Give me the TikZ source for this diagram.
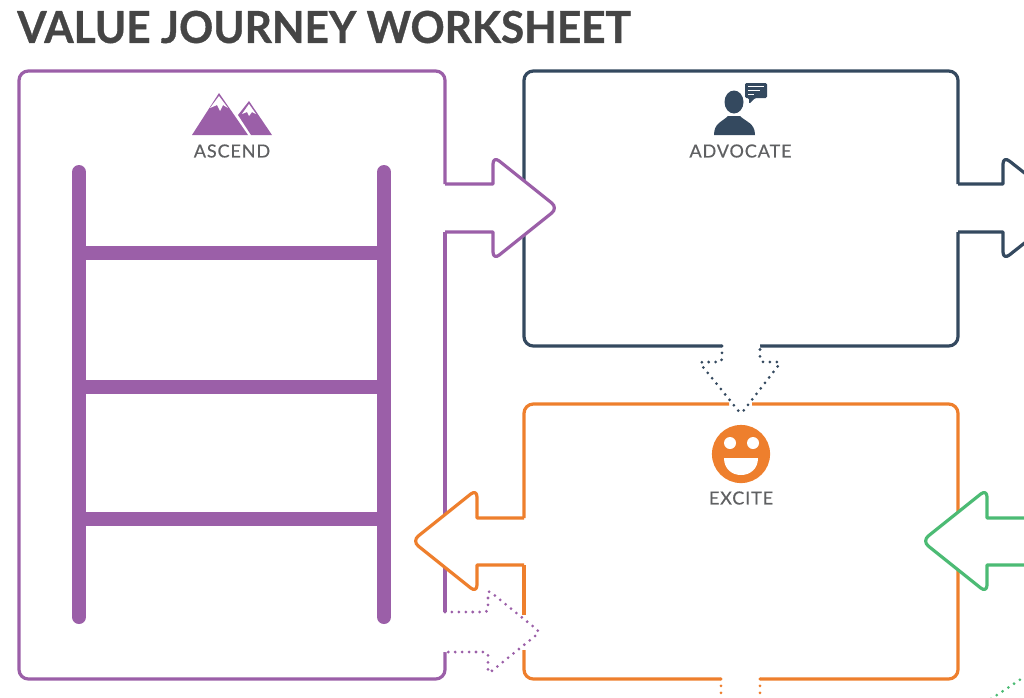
\documentclass[tikz,border=0pt]{standalone}
\usepackage{fontspec}
\setmainfont{Lato}
\definecolor{ascendcol}{HTML}{9B5FA8}
\definecolor{advocatecol}{HTML}{34495F}
\definecolor{excitecol}{HTML}{EE7F2D}
\definecolor{greencol}{HTML}{4CBB74}
\definecolor{titlecol}{HTML}{454545}
\definecolor{labelcol}{HTML}{5F6062}
\begin{document}
\begin{tikzpicture}[x=0.75pt,y=-0.75pt]
        \tikzset{stage/.style = {line width=2.4pt,rounded corners=7pt}};
        \tikzset{solidarrow/.style = {line width=2.4pt,fill=white,line join=round}};
        \tikzset{dotarrow/.style = {line width=2.3pt,fill=white,line cap=round,rounded corners=2.5pt,dash pattern=on 0pt off 5.2pt}};
        \tikzset{rail/.style = {ascendcol,line width=10.5pt,line cap=round}};
        \tikzset{rung/.style = {ascendcol,line width=10.5pt}};
        \tikzset{stagelabel/.style = {text=labelcol,font=\fontsize{13.5}{13.5}\selectfont\addfontfeature{LetterSpace=5,FakeBold=0.5}}};
        \clip (0,0) rectangle (1024,697);
        \node[anchor=west,inner sep=0pt,text=titlecol,font=\fontsize{33}{33}\selectfont\bfseries\addfontfeature{FakeStretch=0.962,FakeBold=0.8}] (title) at (17,27) {VALUE JOURNEY WORKSHEET};
        % ascend
        \draw[stage,draw=ascendcol] (445,184) -- (445,71) -- (19,71) -- (19,679) -- (445,679) -- (445,652);
        \draw[draw=ascendcol,line width=2.4pt] (445,232) -- (445,612);
        \draw[rail] (79,172) -- (79,617);
        \draw[rail] (384,172) -- (384,617);
        \draw[rung] (79,253) -- (384,253);
        \draw[rung] (79,387) -- (384,387);
        \draw[rung] (79,519) -- (384,519);
        \fill[ascendcol] (219,93) -- (248,135) -- (192,135) -- cycle;
        \fill[ascendcol] (249,101) -- (272,135) -- (251,135) -- (238,115) -- cycle;
        \fill[white] (219,96) -- (228,108) -- (223,105) -- (220,111) -- (217,105) -- (210,108) -- cycle;
        \fill[white] (249,104) -- (256,114) -- (252,112) -- (249,116) -- (247,112) -- (242,114) -- cycle;
        \node[stagelabel] (ascend) at (232,151) {ASCEND};
        % advocate
        \draw[stage,draw=advocatecol] (722,346) -- (524,346) -- (524,71) -- (958,71) -- (958,184);
        \draw[stage,draw=advocatecol] (958,232) -- (958,346) -- (760,346);
        \draw[solidarrow,draw=advocatecol] (958,184) -- (1003,184) [rounded corners=6pt] -- (1003,156) -- (1069,208) -- (1003,260) [sharp corners] -- (1003,232) -- (958,232);
        \draw[solidarrow,draw=ascendcol] (445,184) -- (493,184) [rounded corners=6pt] -- (493,156) -- (558,208) -- (493,260) [sharp corners] -- (493,232) -- (445,232);
        \fill[advocatecol] (734,102) ellipse [x radius=9.5,y radius=11.5];
        \fill[advocatecol] (714,135) .. controls (714,123) and (722,122) .. (728,116) -- (740,116) .. controls (746,122) and (755,123) .. (755,135) -- cycle;
        \fill[advocatecol,rounded corners=1pt] (745,83) -- (767,83) -- (767,98) -- (755,98) -- (749,104) -- (749,98) -- (745,98) -- cycle;
        \draw[white,line width=0.9pt] (748,86.5) -- (764,86.5) (748,90.5) -- (760,90.5) (748,94.5) -- (754,94.5);
        \node[stagelabel] (advocate) at (740.5,151) {ADVOCATE};
        % excite
        \draw[stage,draw=excitecol] (729,404) -- (524,404) -- (524,518);
        \draw[stage,draw=excitecol] (524,565) -- (524,615);
        \draw[stage,draw=excitecol] (524,650) -- (524,679) -- (721,679);
        \draw[stage,draw=excitecol] (760,679) -- (958,679) -- (958,404) -- (752,404);
        \draw[solidarrow,draw=excitecol] (524,518) -- (477,518) [rounded corners=6pt] -- (477,489) -- (412,541) -- (477,593) [sharp corners] -- (477,565) -- (524,565);
        \draw[solidarrow,draw=greencol] (1030,518) -- (987,518) [rounded corners=6pt] -- (987,489) -- (922,541) -- (987,593) [sharp corners] -- (987,565) -- (1030,565);
        \fill[excitecol] (741,454) circle (21.8pt);
        \fill[white] (730,443) circle (4.5pt);
        \fill[white] (753,443) circle (4.5pt);
        \fill[white] (724,458) -- (758,458) .. controls (758,469) and (750,475) .. (741,475) .. controls (732,475) and (724,469) .. (724,458) -- cycle;
        \node[stagelabel] (excite) at (741,498) {EXCITE};
        % dotted ways
        \draw[dotarrow,draw=ascendcol] (445,612) -- (488,612) -- (488,590) -- (540,632) -- (488,674) -- (488,652) -- (445,652);
        \draw[dotarrow,draw=advocatecol] (722,346) -- (722,362) -- (699,362) -- (741,414) -- (781,362) -- (760,362) -- (760,346);
        \draw[dotarrow,draw=excitecol] (721,679) -- (721,700);
        \draw[dotarrow,draw=excitecol] (760,679) -- (760,700);
        \draw[dotarrow,draw=greencol] (991,699) -- (1030,673);
    \end{tikzpicture}
\end{document}
